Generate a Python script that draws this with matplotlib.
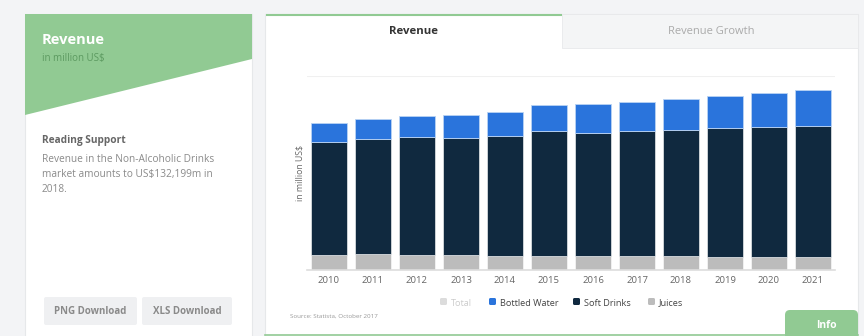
import numpy as np
import matplotlib
matplotlib.use("Agg")
import matplotlib.pyplot as plt
from matplotlib.patches import Polygon, Rectangle, FancyBboxPatch

plt.rcParams["font.family"] = ["Open Sans", "DejaVu Sans"]

# data (million US$)
years = ["2010", "2011", "2012", "2013", "2014", "2015",
         "2016", "2017", "2018", "2019", "2020", "2021"]
juices = [11300, 11800, 11300, 11300, 10700, 10700, 10700, 10700, 10700, 9700, 9700, 9700]
soft_drinks = [87500, 89600, 91400, 91100, 93200, 96900, 95500, 96600, 97600, 100000, 100700, 101700]
bottled_water = [15200, 15500, 16500, 17600, 18600, 20200, 22100, 22500, 23800, 25100, 26400, 27700]

legend_labels = ["Total", "Bottled Water", "Soft Drinks", "Juices"]

c_water = "#2a74dc"
c_soft = "#10293f"
c_juice = "#bcbcbc"
c_green = "#91ca93"

W, H = 864, 336
fig = plt.figure(figsize=(W / 100, H / 100), dpi=100)
fig.patch.set_facecolor("#f3f4f6")

# page layer in pixel coords
bg = fig.add_axes([0, 0, 1, 1])
bg.set_xlim(0, W)
bg.set_ylim(H, 0)
bg.axis("off")

# left card
bg.add_patch(Rectangle((25, 14), 227, 330, facecolor="white", edgecolor="#e6e8ea", lw=0.8))
bg.add_patch(Polygon([(25, 14), (252, 14), (252, 59), (25, 115)], closed=True,
                     facecolor=c_green, edgecolor="none"))
bg.text(42, 40, "Revenue", color="white", fontsize=10.5, fontweight="bold", va="center")
bg.text(42, 59, "in million US$", color="#5c9a60", fontsize=7, va="center")
bg.text(42, 141, "Reading Support", color="#666666", fontsize=7.3, fontweight="bold", va="center")
body = ["Revenue in the Non-Alcoholic Drinks",
        "market amounts to US$132,199m in",
        "2018."]
for i, line in enumerate(body):
    bg.text(42, 159 + i * 15.5, line, color="#8a8a8a", fontsize=7.3, va="center")

for x0, w, lab in [(44, 93, "PNG Download"), (142, 90, "XLS Download")]:
    bg.add_patch(FancyBboxPatch((x0, 297), w, 28, boxstyle="round,pad=0,rounding_size=2",
                                facecolor="#eff0f2", edgecolor="none"))
    bg.text(x0 + w / 2, 311, lab, color="#8a8a8a", fontsize=7, fontweight="bold",
            ha="center", va="center")

# right card
bg.add_patch(Rectangle((265, 14), 593, 330, facecolor="white", edgecolor="#e6e8ea", lw=0.8))
bg.add_patch(Rectangle((562, 14), 296, 34, facecolor="#f4f5f6", edgecolor="#e8e9eb", lw=0.6))
bg.plot([266, 562], [14.5, 14.5], color=c_green, lw=1.5, solid_capstyle="butt")
bg.text(413, 32, "Revenue", color="#333333", fontsize=8.2, fontweight="bold", ha="center", va="center")
bg.text(711, 32, "Revenue Growth", color="#aaaaaa", fontsize=8, ha="center", va="center")
bg.plot([265, 858], [334.5, 334.5], color=c_green, lw=1.2)
bg.add_patch(FancyBboxPatch((785, 310), 73, 30, boxstyle="round,pad=0,rounding_size=5",
                            facecolor=c_green, edgecolor="none"))
bg.text(826, 325, "Info", color="white", fontsize=7.5, fontweight="bold", ha="center", va="center")
bg.text(290, 316, "Source: Statista, October 2017", color="#999999", fontsize=4.5, va="center")

# chart
left, right, base, top = 307, 835, 269.5, 76.4
ax = fig.add_axes([left / W, (H - base) / H, (right - left) / W, (base - top) / H])
x = np.arange(len(years))
juices = np.array(juices)
soft_drinks = np.array(soft_drinks)
bottled_water = np.array(bottled_water)
ax.bar(x, juices, width=0.8, color=c_juice, edgecolor="white", lw=0.4, zorder=2)
ax.bar(x, soft_drinks, width=0.8, bottom=juices, color=c_soft, edgecolor="white", lw=0.4, zorder=2)
ax.bar(x, bottled_water, width=0.8, bottom=juices + soft_drinks, color=c_water,
       edgecolor="#b9d3f3", lw=0.6, zorder=2)
ax.set_xlim(-0.5, len(years) - 0.5)
ax.set_ylim(0, 150000)
ax.set_yticks([150000])
ax.yaxis.grid(True, color="#f0f0f0", lw=0.8)
ax.tick_params(axis="y", length=0, labelleft=False)
ax.set_xticks(x)
ax.set_xticklabels(years, fontsize=6.8, color="#666666")
ax.tick_params(axis="x", length=0, pad=5)
for s in ["top", "right", "left"]:
    ax.spines[s].set_visible(False)
ax.spines["bottom"].set_color("#dddddd")
ax.spines["bottom"].set_linewidth(1.2)
ax.set_ylabel("in million US$", fontsize=6.3, color="#666666", labelpad=2)
ax.set_facecolor("none")

# legend
items = [(440, "#dcdcdc", legend_labels[0], "#cccccc"),
         (489, c_water, legend_labels[1], "#444444"),
         (573, c_soft, legend_labels[2], "#444444"),
         (648, c_juice, legend_labels[3], "#444444")]
for lx, col, lab, tc in items:
    bg.add_patch(FancyBboxPatch((lx, 298), 7, 7, boxstyle="round,pad=0,rounding_size=1.5",
                                facecolor=col, edgecolor="none"))
    bg.text(lx + 11, 302, lab, color=tc, fontsize=6.6, va="center_baseline")

fig.savefig("out.png", dpi=100)
